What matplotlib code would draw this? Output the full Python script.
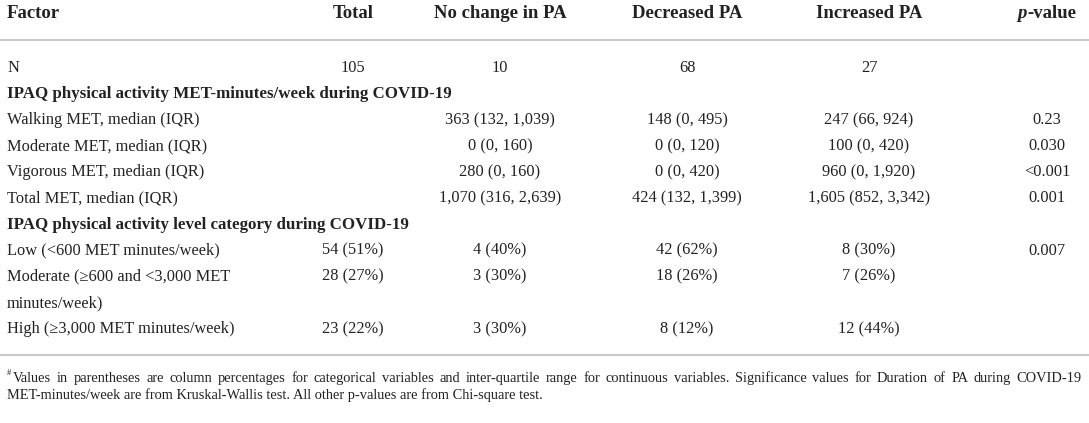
import matplotlib
matplotlib.use("Agg")
import matplotlib.pyplot as plt

plt.rcParams['font.family'] = ['Liberation Serif', 'DejaVu Serif']

W, H = 1089, 423

columns = ["Total", "No change in PA", "Decreased PA", "Increased PA"]
row_labels = [
    "N",
    "IPAQ physical activity MET-minutes/week during COVID-19",
    "Walking MET, median (IQR)",
    "Moderate MET, median (IQR)",
    "Vigorous MET, median (IQR)",
    "Total MET, median (IQR)",
    "IPAQ physical activity level category during COVID-19",
    "Low (<600 MET minutes/week)",
    "Moderate (\u2265600 and <3,000 MET",
    "minutes/week)",
    "High (\u22653,000 MET minutes/week)",
]
bold_rows = [1, 6]
total_vals = ["105", "", "", "", "", "", "", "54 (51%)", "28 (27%)", "", "23 (22%)"]
nochange_vals = ["10", "", "363 (132, 1,039)", "0 (0, 160)", "280 (0, 160)", "1,070 (316, 2,639)",
                 "", "4 (40%)", "3 (30%)", "", "3 (30%)"]
decreased_vals = ["68", "", "148 (0, 495)", "0 (0, 120)", "0 (0, 420)", "424 (132, 1,399)",
                  "", "42 (62%)", "18 (26%)", "", "8 (12%)"]
increased_vals = ["27", "", "247 (66, 924)", "100 (0, 420)", "960 (0, 1,920)", "1,605 (852, 3,342)",
                  "", "8 (30%)", "7 (26%)", "", "12 (44%)"]
p_vals = ["", "", "0.23", "0.030", "<0.001", "0.001", "", "0.007", "", "", ""]

footnote_1 = ("Values in parentheses are column percentages for categorical variables and inter-quartile "
              "range for continuous variables. Significance values for Duration of PA during COVID-19")
footnote_2 = "MET-minutes/week are from Kruskal-Wallis test. All other p-values are from Chi-square test."

fig = plt.figure(figsize=(W / 100, H / 100), dpi=100)
ax = fig.add_axes([0, 0, 1, 1])
ax.set_xlim(0, W)
ax.set_ylim(H, 0)
ax.axis('off')

fs = 11.8
fs_bold = 12.2
fs_head = 13.5
txt_color = '#222222'
col_x = [353, 500, 687, 869]
p_x = 1047
left_x = 7

# header (baseline aligned)
head_y = 18
ax.text(left_x, head_y, "Factor", fontsize=fs_head, fontweight='bold', va='baseline', color=txt_color)
for cx, name in zip(col_x, columns):
    ax.text(cx, head_y, name, fontsize=fs_head, fontweight='bold', ha='center', va='baseline', color=txt_color)

fig.canvas.draw()
r = fig.canvas.get_renderer()
t_val = ax.text(0, head_y, "-value", fontsize=fs_head, fontweight='bold', va='baseline', color=txt_color)
t_p = ax.text(0, head_y, "p", fontsize=fs_head, fontweight='bold', style='italic', va='baseline', color=txt_color)
w_val = t_val.get_window_extent(r).width
w_p = t_p.get_window_extent(r).width
start = p_x - (w_val + w_p) / 2
t_p.set_x(start)
t_val.set_x(start + w_p)

line_color = '#cccccc'
ax.plot([0, W], [40, 40], color=line_color, lw=1.6, solid_capstyle='butt')

row_y0, row_dy = 72, 26.1
for i, label in enumerate(row_labels):
    y = row_y0 + i * row_dy
    ax.text(left_x, y, label, fontsize=fs_bold if i in bold_rows else fs, va='baseline', color=txt_color,
            fontweight='bold' if i in bold_rows else 'normal')
    for cx, vals in zip(col_x, [total_vals, nochange_vals, decreased_vals, increased_vals]):
        if vals[i]:
            ax.text(cx, y, vals[i], fontsize=fs, ha='center', va='baseline', color=txt_color)
    if p_vals[i]:
        ax.text(p_x, y, p_vals[i], fontsize=fs, ha='center', va='baseline', color=txt_color)

ax.plot([0, W], [355, 355], color=line_color, lw=1.6, solid_capstyle='butt')

# footnote, first line justified
fn_fs = 10.4
fn_y1, fn_y2 = 382, 399
ax.text(left_x, fn_y1 - 7, "#", fontsize=6, va='baseline', color=txt_color)
words = footnote_1.split(" ")
fig.canvas.draw()
tw = []
objs = []
for w in words:
    t = ax.text(0, fn_y1, w, fontsize=fn_fs, va='baseline', color=txt_color)
    objs.append(t)
    tw.append(t.get_window_extent(r).width)
x0, x1 = left_x + 6, W - 7
gap = (x1 - x0 - sum(tw)) / (len(words) - 1)
x = x0
for t, w in zip(objs, tw):
    t.set_x(x)
    x += w + gap
ax.text(left_x, fn_y2, footnote_2, fontsize=fn_fs, va='baseline', color=txt_color)

fig.savefig("out.png", dpi=100)
